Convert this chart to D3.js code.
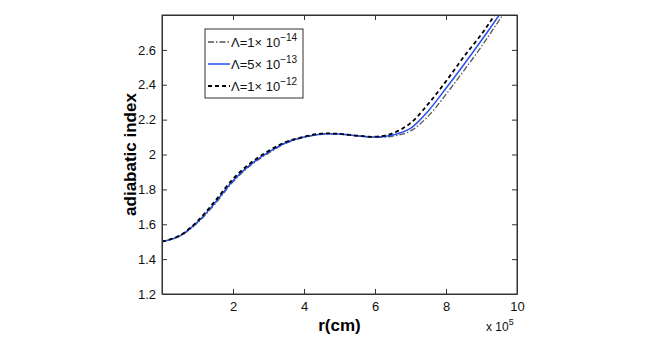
<!DOCTYPE html>
<html>
<head>
<meta charset="utf-8">
<script src="https://cdn.jsdelivr.net/npm/d3@7"></script>
<style>
  body { margin: 0; background: #fff; }
  svg { display: block; font-family: "Liberation Sans", Arial, sans-serif; }
</style>
</head>
<body>
<div id="chartSection"></div>
<script>
// r in units of 10^5 cm
var rVals = [0, 0.5, 1, 1.5, 2, 2.5, 3, 3.5, 4, 4.5, 5, 5.5, 6, 6.5, 7, 7.5, 8, 8.5, 9, 9.5, 10];
var gammaA = [1.5, 1.531, 1.608, 1.718, 1.843, 1.938, 2.008, 2.065, 2.097, 2.116, 2.116, 2.106, 2.098, 2.105, 2.135, 2.22, 2.345, 2.48, 2.62, 2.77, 2.92];
var gammaB = [1.5, 1.533, 1.612, 1.725, 1.85, 1.943, 2.013, 2.069, 2.1, 2.118, 2.117, 2.107, 2.1, 2.112, 2.15, 2.25, 2.38, 2.515, 2.655, 2.8, 2.95];
var gammaC = [1.5, 1.535, 1.618, 1.735, 1.86, 1.952, 2.02, 2.073, 2.102, 2.12, 2.118, 2.108, 2.102, 2.122, 2.18, 2.29, 2.42, 2.56, 2.69, 2.84, 3.0];
var legendMant = ["1", "5", "1"];
var legendExp = ["\u221214", "\u221213", "\u221212"];
var xTicks = [2, 4, 6, 8, 10];
var yTicks = [1.2, 1.4, 1.6, 1.8, 2, 2.2, 2.4, 2.6];

var width = 654, height = 337;
var pLeft = 162, pRight = 517, pTop = 15, pBottom = 294;

var svg = d3.select("#chartSection").append("svg")
    .attr("width", width).attr("height", height);

var x = d3.scaleLinear().domain([0, 10]).range([pLeft, pRight]);
var y = d3.scaleLinear().domain([1.2, 2.8]).range([pBottom, pTop]);

svg.append("clipPath").attr("id", "plotClip")
  .append("rect").attr("x", pLeft).attr("y", pTop)
  .attr("width", pRight - pLeft).attr("height", pBottom - pTop);

var styles = [
  { vals: gammaA, color: "#555", dash: "6,2,1.5,2", w: 1.3 },
  { vals: gammaB, color: "#2a4ff0", dash: null, w: 1.5 },
  { vals: gammaC, color: "#000", dash: "4,3", w: 1.8 }
];

var line = d3.line()
  .x(function(d) { return x(d[0]); })
  .y(function(d) { return y(d[1]); })
  .curve(d3.curveCatmullRom.alpha(0.5));

var g = svg.append("g").attr("clip-path", "url(#plotClip)");
styles.forEach(function(s) {
  g.append("path")
    .datum(rVals.map(function(r, i) { return [r, s.vals[i]]; }))
    .attr("d", line)
    .attr("fill", "none")
    .attr("stroke", s.color)
    .attr("stroke-width", s.w)
    .attr("stroke-dasharray", s.dash);
});

// axes (ticks inside, box all round)
var tl = 5;
svg.append("g").attr("transform", "translate(0," + pBottom + ")")
  .call(d3.axisBottom(x).tickValues(xTicks).tickSizeInner(-tl).tickSizeOuter(0).tickPadding(8).tickFormat(d3.format("d")));
svg.append("g").attr("transform", "translate(0," + pTop + ")")
  .call(d3.axisTop(x).tickValues(xTicks).tickSizeInner(-tl).tickSizeOuter(0).tickFormat(""));
svg.append("g").attr("transform", "translate(" + pLeft + ",0)")
  .call(d3.axisLeft(y).tickValues(yTicks).tickSizeInner(-tl).tickSizeOuter(0).tickPadding(6).tickFormat(function(d) { return String(+d.toFixed(1)); }));
svg.append("g").attr("transform", "translate(" + pRight + ",0)")
  .call(d3.axisRight(y).tickValues(yTicks).tickSizeInner(-tl).tickSizeOuter(0).tickFormat(""));

svg.selectAll(".domain").attr("stroke", "#333").attr("stroke-width", 1);
svg.selectAll(".tick line").attr("stroke", "#333");
svg.selectAll(".tick text").attr("font-size", 13).attr("fill", "#111")
  .attr("font-family", "Liberation Sans, Arial, sans-serif");

svg.append("rect").attr("x", pLeft).attr("y", pTop)
  .attr("width", pRight - pLeft).attr("height", pBottom - pTop)
  .attr("fill", "none").attr("stroke", "#333");

// axis labels
svg.append("text").attr("x", (pLeft + pRight) / 2).attr("y", 331)
  .attr("text-anchor", "middle").attr("font-size", 17).attr("font-weight", "bold")
  .text("r(cm)");
svg.append("text")
  .attr("transform", "translate(136," + ((pTop + pBottom) / 2) + ") rotate(-90)")
  .attr("text-anchor", "middle").attr("font-size", 17).attr("font-weight", "bold")
  .text("adiabatic index");

var mult = svg.append("text").attr("x", 486).attr("y", 331).attr("font-size", 12).attr("fill", "#111");
mult.append("tspan").text("x 10");
mult.append("tspan").attr("dy", -6).attr("font-size", 9).text("5");

// legend
var lg = svg.append("g");
lg.append("rect").attr("x", 205).attr("y", 29).attr("width", 98).attr("height", 69)
  .attr("fill", "#fff").attr("stroke", "#333");
styles.forEach(function(s, i) {
  var yy = 42 + i * 22;
  lg.append("line").attr("x1", 208).attr("x2", 230).attr("y1", yy).attr("y2", yy)
    .attr("stroke", s.color).attr("stroke-width", s.w).attr("stroke-dasharray", s.dash);
  var t = lg.append("text").attr("x", 231).attr("y", yy + 5).attr("font-size", 13).attr("fill", "#111");
  t.append("tspan").text("\u039b=" + legendMant[i] + "\u00d7 10");
  t.append("tspan").attr("dy", -6).attr("font-size", 10).text(legendExp[i]);
});
</script>
</body>
</html>
